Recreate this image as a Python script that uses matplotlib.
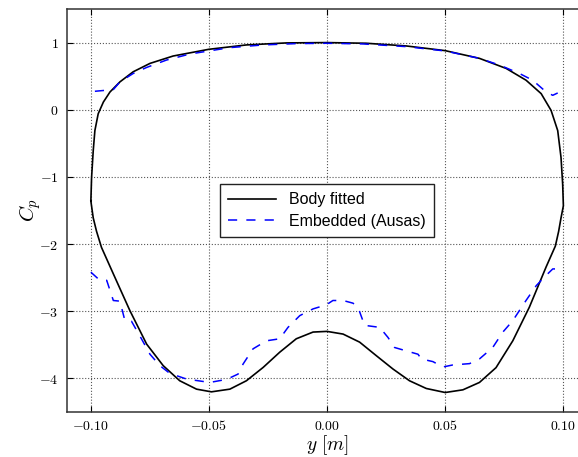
import matplotlib
matplotlib.use("Agg")
import matplotlib.pyplot as plt
from matplotlib.ticker import FuncFormatter

plt.rcParams['mathtext.fontset'] = 'cm'

# body fitted Cp, closed curve: upper side (left -> right) then lower side (right -> left)
body_y_upper = [-0.0999, -0.0996, -0.0989, -0.0982, -0.0968, -0.0946, -0.0918, -0.0876,
                -0.0820, -0.0749, -0.0651, -0.0500, -0.0341, -0.0172, 0.0000, 0.0166,
                0.0335, 0.0500, 0.0645, 0.0758, 0.0842, 0.0906, 0.0948, 0.0976,
                0.0990, 0.0997, 0.1000]
body_cp_upper = [-1.36, -1.01, -0.61, -0.31, -0.06, 0.115, 0.265, 0.415,
                 0.565, 0.69, 0.80, 0.90, 0.965, 0.995, 1.00, 0.99,
                 0.95, 0.88, 0.765, 0.615, 0.44, 0.24, -0.01, -0.31,
                 -0.71, -1.11, -1.43]
body_y_lower = [0.0990, 0.0980, 0.0966, 0.0927, 0.0856, 0.0786, 0.0715, 0.0645,
                0.0575, 0.0500, 0.0420, 0.0349, 0.0279, 0.0208, 0.0138, 0.0068,
                0.0000, -0.0059, -0.0130, -0.0200, -0.0270, -0.0341, -0.0411, -0.0489,
                -0.0552, -0.0623, -0.0693, -0.0763, -0.0834, -0.0904, -0.0954, -0.0975,
                -0.0989, -0.0999]
body_cp_lower = [-1.61, -1.81, -2.03, -2.34, -2.94, -3.44, -3.84, -4.06,
                 -4.17, -4.21, -4.15, -4.035, -3.86, -3.66, -3.46, -3.34,
                 -3.30, -3.31, -3.41, -3.61, -3.836, -4.035, -4.16, -4.20,
                 -4.16, -4.035, -3.81, -3.49, -2.99, -2.443, -2.05, -1.81,
                 -1.61, -1.36]

# embedded (Ausas) Cp, upper and lower branches
emb_y_upper = [-0.0982, -0.0904, -0.0876, -0.0820, -0.0763, -0.0679, -0.0580, -0.0500,
               -0.0411, -0.0270, -0.0130, 0.0000, 0.0152, 0.0335, 0.0500, 0.0645,
               0.0730, 0.0814, 0.0870, 0.0927, 0.0955, 0.0976]
emb_cp_upper = [0.275, 0.30, 0.415, 0.54, 0.63, 0.74, 0.83, 0.875,
                0.925, 0.965, 0.985, 0.99, 0.98, 0.94, 0.875, 0.765,
                0.665, 0.54, 0.44, 0.265, 0.215, 0.25]
emb_y_lower = [-0.0999, -0.0961, -0.0932, -0.0904, -0.0876, -0.0855, -0.0827, -0.0785,
               -0.0749, -0.0707, -0.0665, -0.0594, -0.0496, -0.0425, -0.0376, -0.0355,
               -0.0313, -0.0256, -0.0200, -0.0165, -0.0115, -0.0059, -0.0003, 0.0025,
               0.0068, 0.0110, 0.0131, 0.0159, 0.0223, 0.0258, 0.0286, 0.0335,
               0.0385, 0.0399, 0.0448, 0.0490, 0.0532, 0.0603, 0.0645, 0.0701,
               0.0744, 0.0786, 0.0842, 0.0885, 0.0920, 0.0955, 0.0976]
emb_cp_lower = [-2.418, -2.54, -2.54, -2.84, -2.85, -3.14, -3.15, -3.41,
                -3.64, -3.81, -3.925, -4.01, -4.06, -4.015, -3.935, -3.786,
                -3.56, -3.44, -3.41, -3.24, -3.065, -2.965, -2.905, -2.84,
                -2.84, -2.88, -2.94, -3.21, -3.24, -3.39, -3.54, -3.59,
                -3.64, -3.71, -3.75, -3.83, -3.80, -3.78, -3.71, -3.54,
                -3.31, -3.14, -2.84, -2.62, -2.49, -2.37, -2.37]

fig = plt.figure(figsize=(5.78, 4.57), dpi=100)
ax = fig.add_axes([0.1159, 0.0985, 0.8997, 0.8818])

body_y = body_y_upper + body_y_lower
body_cp = body_cp_upper + body_cp_lower
ax.plot(body_y, body_cp, 'k-', lw=1.2, label='Body fitted')
ax.plot(emb_y_upper, emb_cp_upper, 'b--', lw=1.1, dashes=(6, 6), label='Embedded (Ausas)')
ax.plot(emb_y_lower, emb_cp_lower, 'b--', lw=1.1, dashes=(6, 6))

ax.set_xlim(-0.11, 0.11)
ax.set_ylim(-4.5, 1.5)
ax.set_xticks([-0.10, -0.05, 0.0, 0.05, 0.10])
ax.set_yticks([-4, -3, -2, -1, 0, 1])
ax.xaxis.set_major_formatter(FuncFormatter(lambda v, p: r'$%.2f$' % v))
ax.yaxis.set_major_formatter(FuncFormatter(lambda v, p: r'$%d$' % round(v)))
ax.tick_params(direction='in', top=True, right=False, length=4, labelsize=10)
ax.tick_params(axis='x', pad=5)
ax.tick_params(axis='y', pad=6)

ax.grid(True, color='#555555', linestyle=':', linewidth=0.8)
ax.spines['right'].set_visible(False)
for s in ax.spines.values():
    s.set_linewidth(1.1)
    s.set_color('#333333')

ax.set_xlabel(r'$y\ [m]$', fontsize=14, labelpad=0)
ax.set_ylabel(r'$C_p$', fontsize=15, labelpad=-3)

leg = ax.legend(loc='center', prop={'family': 'Liberation Sans', 'size': 11.5},
                fancybox=False, framealpha=1, edgecolor='#222222',
                handlelength=3, borderpad=0.5, labelspacing=0.4)
leg.get_frame().set_linewidth(1.0)

fig.savefig('out.png', dpi=100)
